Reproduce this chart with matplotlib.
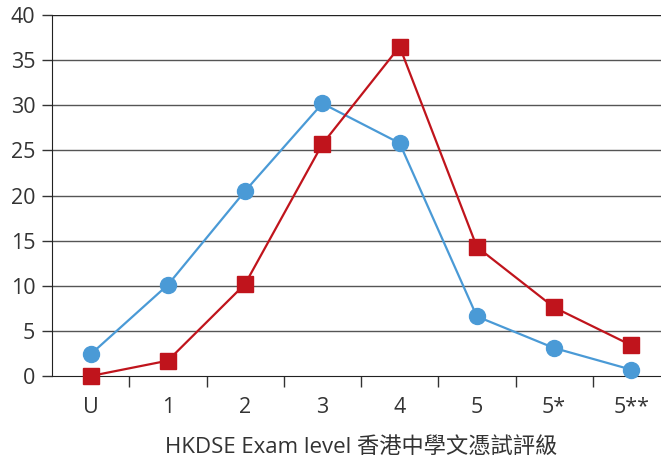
import numpy as np
import matplotlib.pyplot as plt
from matplotlib.ticker import FixedLocator, NullFormatter

levels = ["U", "1", "2", "3", "4", "5", "5*", "5**"]
blue_vals = [2.4, 10.1, 20.5, 30.2, 25.8, 6.6, 3.1, 0.7]
red_vals = [0.0, 1.7, 10.2, 25.7, 36.5, 14.3, 7.6, 3.4]
y_ticks = [0, 5, 10, 15, 20, 25, 30, 35, 40]

plt.rcParams['font.family'] = ['Open Sans', 'Noto Sans CJK TC', 'DejaVu Sans']
text_col = '#333333'
fs = 15.5

fig = plt.figure(figsize=(6.61, 4.59), dpi=100)
ax = fig.add_axes([52 / 661, 83 / 459, 618 / 661, 361 / 459])

x = np.arange(len(levels))
ax.plot(x, blue_vals, color='#4a9ad6', lw=1.6, marker='o', ms=11.5, zorder=3, clip_on=False)
ax.plot(x, red_vals, color='#c0141c', lw=1.6, marker='s', ms=11, zorder=4, clip_on=False)

ax.set_xlim(-0.5, len(levels) - 0.5)
ax.set_ylim(0, 40)
ax.set_yticks(y_ticks)
ax.set_xticks(x)
ax.set_xticklabels(levels)
ax.xaxis.set_minor_locator(FixedLocator(np.arange(0.5, len(levels) - 1, 1.0)))
ax.xaxis.set_minor_formatter(NullFormatter())
ax.tick_params(axis='x', which='major', length=0, pad=15, labelsize=fs, colors=text_col)
ax.tick_params(axis='x', which='minor', length=8, width=1, color='#333333', direction='out')
ax.tick_params(axis='y', length=7, width=1, color='#333333', pad=5, labelsize=fs, labelcolor=text_col)

for v in y_ticks[1:]:
    ax.axhline(v, color='#555555' if v < 40 else '#222222', lw=1, zorder=1)

for side in ['top', 'right']:
    ax.spines[side].set_visible(False)
ax.spines['left'].set_color('#222222')
ax.spines['bottom'].set_color('#222222')

ax.set_xlabel("HKDSE Exam level 香港中學文憑試評級", fontsize=16, color=text_col, labelpad=14)

fig.savefig('out.png', dpi=100)
